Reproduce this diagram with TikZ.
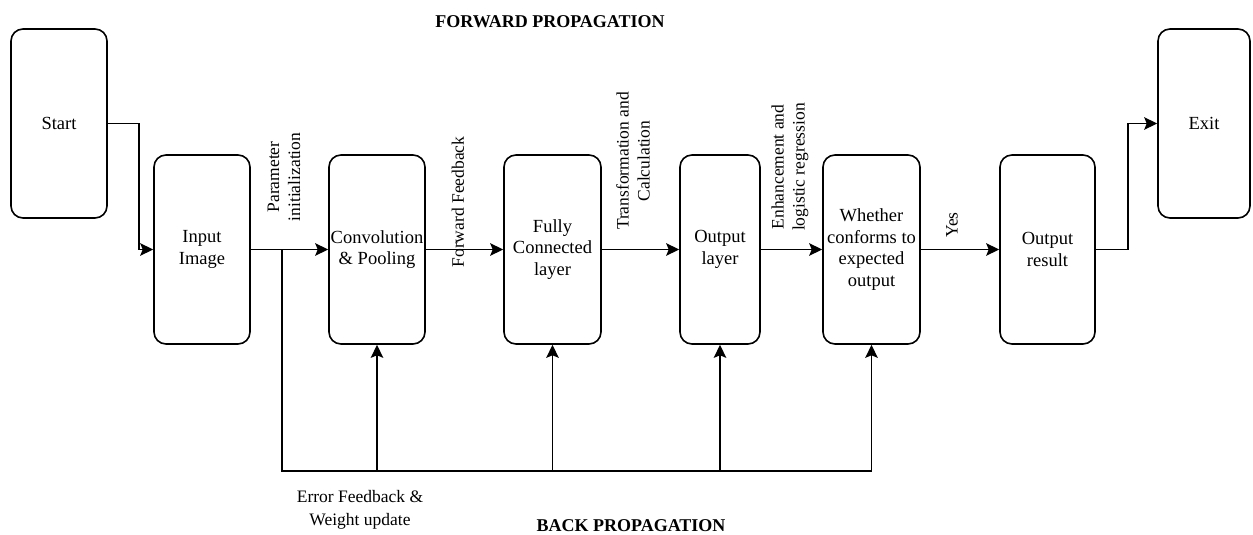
\documentclass[tikz,border=0pt]{standalone}
\usepackage{fontspec}
\setmainfont{Liberation Serif}
\usetikzlibrary{arrows.meta,calc}

\begin{document}
\begin{tikzpicture}[x=1pt,y=-1pt,
  stagebox/.style={draw, line width=1.6pt, rounded corners=12pt,
    minimum height=189pt, align=center, inner sep=0pt,
    font=\fontsize{18.5}{21.7}\selectfont},
  flow/.style={line width=1.6pt},
  arr/.style={flow, -{Stealth[length=13pt,width=12.5pt,inset=2.5pt]}},
  vlabel/.style={rotate=90, align=center, inner sep=0pt,
    font=\fontsize{17.5}{21}\selectfont},
  heading/.style={font=\fontsize{18}{21}\selectfont\bfseries, inner sep=0pt},
  note/.style={align=center, inner sep=0pt, font=\fontsize{17.5}{22.5}\selectfont}]

\useasboundingbox (0,0) rectangle (1253,535);

% stages
\node[stagebox, minimum width=96pt] (start)   at (59,123.5)    {Start};
\node[stagebox, minimum width=96pt] (input)   at (202,249.5)   {Input\\Image};
\node[stagebox, minimum width=96pt] (conv)    at (377,249.5)   {Convolution\\\& Pooling};
\node[stagebox, minimum width=97pt] (fc)      at (552.5,249.5) {Fully\\Connected\\layer};
\node[stagebox, minimum width=80pt] (outl)    at (720,249.5)   {Output\\layer};
\node[stagebox, minimum width=97pt] (check)   at (871.5,249.5) {Whether\\conforms to\\expected\\output};
\node[stagebox, minimum width=95pt] (result)  at (1047.5,249.5){Output\\result};
\node[stagebox, minimum width=92pt] (exit)    at (1204,123.5)  {Exit};

% forward path
\draw[arr] (start.east) -- ++(31,0) |- (input.west);
\draw[arr] (input.east) -- (conv.west);
\draw[arr] (conv.east) -- (fc.west);
\draw[arr] (fc.east) -- (outl.west);
\draw[arr] (outl.east) -- (check.west);
\draw[arr] (check.east) -- (result.west);
\draw[arr] (result.east) -- ++(32,0) |- (exit.west);

% feedback path
\coordinate (fbsplit) at (282,250);
\coordinate (fbcorner) at (282,471);
\draw[flow] (fbsplit) -- (fbcorner) -- (check.south |- fbcorner);
\draw[arr] (conv.south |- fbcorner) -- (conv.south);
\draw[arr] (fc.south |- fbcorner) -- (fc.south);
\draw[arr] (outl.south |- fbcorner) -- (outl.south);
\draw[arr] (check.south |- fbcorner) -- (check.south);

% edge labels
\node[vlabel] (lparam) at (284,177) {Parameter\\initialization};
\node[vlabel] (lfwd)   at (458,202) {Forward Feedback};
\node[vlabel] (ltrans) at (633,161) {Transformation and\\Calculation};
\node[vlabel] (lenh)   at (790,167) {Enhancement and\\logistic regression};
\node[vlabel] (lyes)   at (952,225) {Yes};

% captions
\node[heading] (fwdtitle)  at (550,22)  {FORWARD PROPAGATION};
\node[heading] (backtitle) at (631,526) {BACK PROPAGATION};
\node[note]    (errnote)   at (360,510) {Error Feedback \&\\Weight update};
\end{tikzpicture}
\end{document}
